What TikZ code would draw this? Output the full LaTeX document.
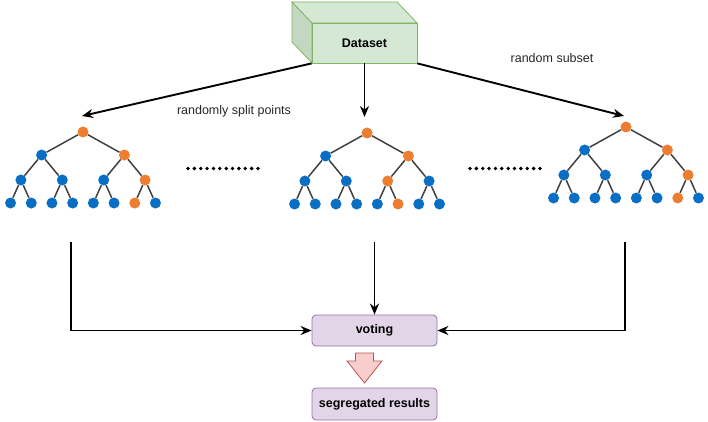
\documentclass[tikz,border=0pt]{standalone}
\usepackage{fontspec}
\setmainfont{Liberation Sans}
\usetikzlibrary{arrows.meta}
\definecolor{gfill}{HTML}{D5E8D4}
\definecolor{gside}{HTML}{C2D8C0}
\definecolor{gline}{HTML}{82B366}
\definecolor{pfill}{HTML}{E1D5E7}
\definecolor{pline}{HTML}{9673A6}
\definecolor{rfill}{HTML}{F8CECC}
\definecolor{rline}{HTML}{B85450}
\definecolor{nblue}{HTML}{0A6EC4}
\definecolor{norange}{HTML}{ED7D31}
\begin{document}
\begin{tikzpicture}[x=1pt, y=-1pt,
    blu/.style={circle,fill=nblue,inner sep=0pt,minimum size=11pt},
    orn/.style={circle,fill=norange,inner sep=0pt,minimum size=11pt},
    edge/.style={draw=black!75,line width=1.5pt},
    arr/.style={draw=black,line width=1.9pt,-{Stealth[length=11pt,width=9pt]}},
    box/.style={rectangle,rounded corners=4pt,fill=pfill,draw=pline,line width=0.8pt,
        minimum width=125pt,font=\fontsize{12.5}{15}\selectfont\bfseries},
    lab/.style={font=\fontsize{12.5}{15}\selectfont,text=black!85},
    dots/.style={line width=3.8pt,line cap=round,dash pattern=on 0pt off 6.36pt}]
    \useasboundingbox (0,0) rectangle (708,422);

    % dataset cube
    \draw[fill=gside,draw=gline,line width=0.8pt] (292,2) -- (312,23) -- (312,63) -- (292,42) -- cycle;
    \draw[fill=gfill,draw=gline,line width=0.8pt] (292,2) -- (397,2) -- (417,23) -- (312,23) -- cycle;
    \node[rectangle,fill=gfill,draw=gline,line width=0.8pt,minimum width=105pt,minimum height=40pt,
        font=\fontsize{12.5}{15}\selectfont\bfseries] (data) at (364.5,43) {Dataset};

    \node[lab] (split) at (234,111) {randomly split points};
    \node[lab] (subset) at (552,58) {random subset};

    \coordinate (ta) at (82,116);
    \coordinate (tb) at (364.5,117);
    \coordinate (tc) at (624,116);
    \draw[arr] (data.south west) -- (ta);
    \draw[arr] (data.south) -- (tb);
    \draw[arr] (data.south east) -- (tc);

    % trees
    \foreach \t/\rx/\ry/\ka/\kb in {a/83/132/4/7, b/367/133/3/6, c/626/127/4/7} {
        \node[orn] (\t0) at (\rx,\ry) {};
        \foreach \i in {1,2} {
            \ifnum\i=2 \def\s{orn}\else\def\s{blu}\fi
            \node[\s] (\t1-\i) at ({\rx+(2*\i-3)*41.4},{\ry+23}) {};
            \draw[edge] (\t0) -- (\t1-\i);
        }
        \foreach \i in {1,...,4} {
            \ifnum\i=\ka \def\s{orn}\else\def\s{blu}\fi
            \pgfmathtruncatemacro\p{(\i+1)/2}
            \node[\s] (\t2-\i) at ({\rx+(2*\i-5)*20.7},{\ry+48}) {};
            \draw[edge] (\t1-\p) -- (\t2-\i);
        }
        \foreach \i in {1,...,8} {
            \ifnum\i=\kb \def\s{orn}\else\def\s{blu}\fi
            \pgfmathtruncatemacro\p{(\i+1)/2}
            \node[\s] (\t3-\i) at ({\rx+(2*\i-9)*10.35},{\ry+71}) {};
            \draw[edge] (\t2-\p) -- (\t3-\i);
        }
    }

    \draw[dots] (188,168.5) -- (258,168.5);
    \draw[dots] (470,168.5) -- (540,168.5);

    % voting
    \node[box,minimum height=31pt] (vote) at (374.5,330.5) {voting};
    \node[box,minimum height=32pt] (result) at (374.5,404) {segregated results};

    \coordinate (la) at (71,242);
    \coordinate (lb) at (374.5,242);
    \coordinate (lc) at (625,242);
    \draw[arr] (la) |- (vote);
    \draw[arr] (lb) -- (vote);
    \draw[arr] (lc) |- (vote);

    \draw[fill=rfill,draw=rline,line width=0.8pt] (355.5,353) -- (373.5,353) -- (373.5,361) -- (382,361)
        -- (364.5,383) -- (347,361) -- (355.5,361) -- cycle;
\end{tikzpicture}
\end{document}
